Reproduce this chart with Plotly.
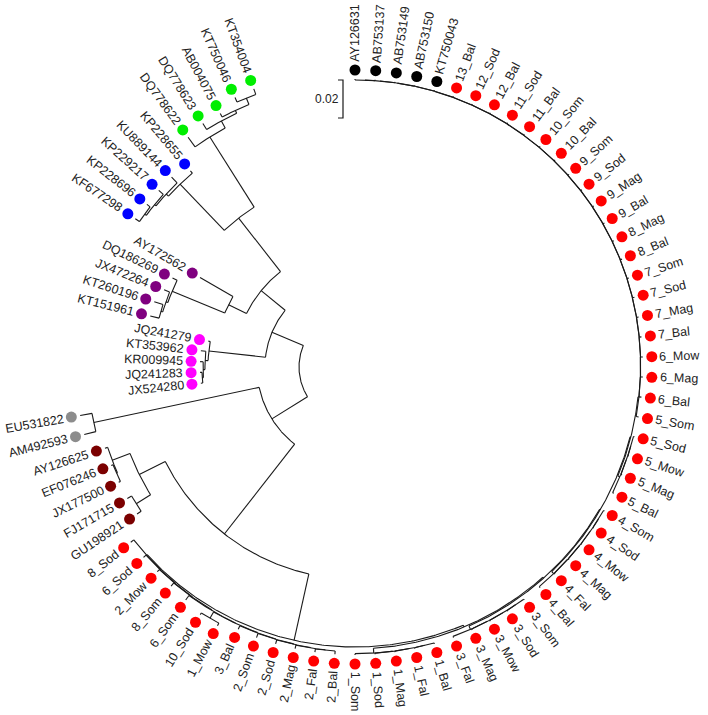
import math
import plotly.graph_objects as go

# ---------------- data: tips in clockwise order (starting at the top) ----------------
black_tips = ["AY126631", "AB753137", "AB753149", "AB753150", "KT750043"]
red_top_tips = ["13_Bal", "12_Sod", "12_Bal", "11_Sod", "11_Bal", "10_Som", "10_Bal", "9_Som",
                "9_Sod", "9_Mag", "9_Bal", "8_Mag", "8_Bal", "7_Som", "7_Sod", "7_Mag", "7_Bal",
                "6_Mow", "6_Mag", "6_Bal", "5_Som"]
red_g1_tips = ["5_Sod", "5_Mow", "5_Mag", "5_Bal"]
red_g2_tips = ["4_Som", "4_Sod", "4_Mow", "4_Mag", "4_Fal", "4_Bal"]
red_g3_tips = ["3_Som", "3_Sod", "3_Mow", "3_Mag", "3_Fal"]
red_g4_tips = ["1_Bal", "1_Fal", "1_Mag", "1_Sod", "1_Som"]
red_lft_tips = ["2_Bal", "2_Fal", "2_Mag", "2_Sod", "2_Som", "3_Bal", "1_Mow", "10_Sod",
                "6_Som", "8_Som", "2_Mow", "6_Sod", "8_Sod"]
darkred_tips = ["GU198921", "FJ171715", "JX177500", "EF076246", "AY126625"]
gray_tips = ["AM492593", "EU531822"]
magenta_tips = ["JX524280", "JQ241283", "KR009945", "KT353962", "JQ241279"]
purple_tips = ["KT151961", "KT260196", "JX472264", "DQ186269", "AY172562"]
blue_tips = ["KF677298", "KP228696", "KP229217", "KU889144", "KP228655"]
green_tips = ["DQ778622", "DQ778623", "AB004075", "KT750046", "KT354004"]

# root-to-tip distances (substitutions/site)
black_depth = [0.1221, 0.1221, 0.1221, 0.1221, 0.1221]
red_top_depth = [0.1221, 0.1221, 0.1221, 0.1221, 0.1221, 0.1221, 0.1221, 0.1221, 0.1221,
                 0.1221, 0.1221, 0.1221, 0.1221, 0.1221, 0.1221, 0.1221, 0.1221, 0.1221,
                 0.1221, 0.1221, 0.1221]
red_g1_depth = [0.1221, 0.1221, 0.1221, 0.1221]
red_g2_depth = [0.1221, 0.1221, 0.1221, 0.1221, 0.1221, 0.1221]
red_g3_depth = [0.1221, 0.1221, 0.1221, 0.1221, 0.1221]
red_g4_depth = [0.1221, 0.1221, 0.1221, 0.1221, 0.1221]
red_lft_depth = [0.1221, 0.1221, 0.1221, 0.1221, 0.1221, 0.1216, 0.1247, 0.1242, 0.1221,
                 0.1211, 0.1203, 0.1203, 0.1203]
darkred_depth = [0.1089, 0.1089, 0.1089, 0.1089, 0.1089]
gray_depth = [0.1174, 0.1174]
magenta_depth = [0.0521, 0.0521, 0.0521, 0.0521, 0.0489]
purple_depth = [0.0816, 0.0816, 0.0789, 0.0774, 0.0647]
blue_depth = [0.1100, 0.1095, 0.1095, 0.1095, 0.1053]
green_depth = [0.1200, 0.1216, 0.1216, 0.1258, 0.1263]

# depths of ladder nodes (innermost node first)
top_comb_depth = [0.1216, 0.1216, 0.1216, 0.1216, 0.1216, 0.1215, 0.1215, 0.1215, 0.1215,
                  0.1214, 0.1214, 0.1214, 0.1213, 0.1213, 0.1213, 0.1212, 0.1212, 0.1211,
                  0.1211, 0.1210, 0.1210, 0.1209, 0.1209, 0.1208, 0.1208]
g1_comb_depth = [0.1216, 0.1215, 0.1214]
g2_comb_depth = [0.1216, 0.1216, 0.1215, 0.1215, 0.1214]
g3_comb_depth = [0.1216, 0.1215, 0.1215, 0.1214]
g4_comb_depth = [0.1216, 0.1215, 0.1215, 0.1214]
join_depth = [0.1203, 0.1199, 0.1195, 0.1189]          # top+G1, +G2, +G3, +G4
lft_comb_depth = [0.1204, 0.1202, 0.1200, 0.1198, 0.1196, 0.1194, 0.1192, 0.1189, 0.1187,
                  0.1185, 0.1183]
cherry_depth = 0.1232                                   # (1_Mow, 10_Sod)

darkred_tree = (0.0974, [(0.1063, ["GU198921", "FJ171715"]),
                         (0.1074, [(0.1079, ["JX177500", "EF076246"]), "AY126625"])])
gray_tree = (0.1111, ["AM492593", "EU531822"])
magenta_tree = (0.0479, [(0.0495, [(0.0505, [(0.0511, ["JX524280", "JQ241283"]), "KR009945"]),
                                   "KT353962"]), "JQ241279"])
purple_tree = (0.0447, [(0.0747, [(0.0758, [(0.0768, ["KT151961", "KT260196"]), "JX472264"]),
                                  "DQ186269"]), "AY172562"])
blue_tree = (0.1037, [(0.1053, [(0.1063, [(0.1074, ["KF677298", "KP228696"]), "KP229217"]),
                                "KU889144"]), "KP228655"])
green_tree = (0.1137, ["DQ778622", (0.1179, ["DQ778623", (0.1195, ["AB004075",
                        (0.1232, ["KT750046", "KT354004"])])])])

backbone_depth = {"root": 0.0, "N2": 0.0221, "N4": 0.0179, "N1": 0.0821, "R0": 0.1179,
                  "N5": 0.0342, "N6": 0.0700}
scale_bar_value = 0.02

# ---------------- build tree ----------------
def comb(items, depths):
    node = items[0]
    for t, d in zip(items[1:], depths):
        node = (d, [node, t])
    return node

top = comb(black_tips + red_top_tips, top_comb_depth)
g_clades = [comb(red_g1_tips, g1_comb_depth), comb(red_g2_tips, g2_comb_depth),
            comb(red_g3_tips, g3_comb_depth), comb(red_g4_tips, g4_comb_depth)]
a_clade = top
for g, d in zip(g_clades, join_depth):
    a_clade = (d, [a_clade, g])
lft_items = red_lft_tips[:6] + [(cherry_depth, red_lft_tips[6:8])] + red_lft_tips[8:]
lft_clade = comb(lft_items, lft_comb_depth)

r0 = (backbone_depth["R0"], [a_clade, lft_clade])
n1 = (backbone_depth["N1"], [r0, darkred_tree])
n2 = (backbone_depth["N2"], [n1, gray_tree])
n6 = (backbone_depth["N6"], [blue_tree, green_tree])
n5 = (backbone_depth["N5"], [purple_tree, n6])
n4 = (backbone_depth["N4"], [magenta_tree, n5])
root = (backbone_depth["root"], [n2, n4])

groups = [
    (black_tips, black_depth, "#000000"),
    (red_top_tips, red_top_depth, "#ff0000"),
    (red_g1_tips, red_g1_depth, "#ff0000"),
    (red_g2_tips, red_g2_depth, "#ff0000"),
    (red_g3_tips, red_g3_depth, "#ff0000"),
    (red_g4_tips, red_g4_depth, "#ff0000"),
    (red_lft_tips, red_lft_depth, "#ff0000"),
    (darkred_tips, darkred_depth, "#7b0000"),
    (gray_tips, gray_depth, "#8c8c8c"),
    (magenta_tips, magenta_depth, "#ff00ff"),
    (purple_tips, purple_depth, "#7f007f"),
    (blue_tips, blue_depth, "#0000ff"),
    (green_tips, green_depth, "#00ee00"),
]
tip_order, tip_depth, tip_color = [], {}, {}
for names, depths, col in groups:
    for n, d in zip(names, depths):
        tip_order.append(n)
        tip_depth[n] = d
        tip_color[n] = col
tip_index = {n: i for i, n in enumerate(tip_order)}

# ---------------- geometry ----------------
W, H = 708, 715
CX, CY = 355.0, 367.0
R_IN = 56.0
PX_PER_UNIT = 1900.0
STEP_DEG = 4.0

def rad_of(d):
    return R_IN + d * PX_PER_UNIT

def polar(r, a):
    t = math.radians(a)
    return CX + r * math.cos(t), CY - r * math.sin(t)

line_x, line_y = [], []
def add_line(pts):
    for x, y in pts:
        line_x.append(x)
        line_y.append(y)
    line_x.append(None)
    line_y.append(None)

tips_drawn = []
def draw(node, parent_r):
    if isinstance(node, str):
        a = 90.0 - STEP_DEG * tip_index[node]
        r = rad_of(tip_depth[node])
        tips_drawn.append((node, a, r))
    else:
        d, kids = node
        r = rad_of(d)
        angs = [draw(k, r) for k in kids]
        a0, a1 = min(angs), max(angs)
        a = (a0 + a1) / 2.0
        n = max(2, int((a1 - a0) / 0.4) + 2)
        add_line([polar(r, a0 + (a1 - a0) * k / (n - 1)) for k in range(n)])
    if parent_r is not None:
        add_line([polar(parent_r, a), polar(r, a)])
    return a

draw(root, None)

CW = {'A': .667, 'B': .667, 'D': .722, 'E': .667, 'F': .611, 'G': .778, 'J': .5, 'K': .667,
      'M': .833, 'P': .667, 'Q': .778, 'R': .722, 'S': .667, 'T': .611, 'U': .722, 'X': .667,
      'Y': .667, 'a': .556, 'l': .222, 'o': .556, 'd': .556, 'm': .833, 'g': .556, 'w': .722,
      '_': .556}
FS = 12.5
FONT = "Liberation Sans, Arial, sans-serif"
def text_w(s):
    return sum(CW.get(c, .556) for c in s) * FS

fig = go.Figure()
fig.add_trace(go.Scatter(x=line_x, y=line_y, mode="lines",
                         line=dict(color="#1a1a1a", width=1.1), hoverinfo="skip"))

dx, dy, dc = [], [], []
annotations = []
for name, a, r in tips_drawn:
    rd = r + 9
    x, y = polar(rd, a)
    dx.append(x); dy.append(y); dc.append(tip_color[name])
    w = text_w(name)
    lx, ly = polar(rd + 8 + w / 2.0, a)
    an = ((a + 180) % 360) - 180
    if math.cos(math.radians(an)) >= -1e-9:
        ta = -an
    else:
        ta = -(an + 180)
    ta = ((ta + 180) % 360) - 180
    annotations.append(dict(x=lx, y=ly, xref="x", yref="y", text=name, showarrow=False,
                            textangle=ta, xanchor="center", yanchor="middle",
                            font=dict(family=FONT, size=FS, color="#222222")))

fig.add_trace(go.Scatter(x=dx, y=dy, mode="markers",
                         marker=dict(color=dc, size=11, line=dict(width=0)), hoverinfo="skip"))

# scale bar
bar_len = scale_bar_value * PX_PER_UNIT
bx, by = 343.0, 80.0
fig.add_trace(go.Scatter(x=[bx - 5, bx, bx, bx - 5], y=[by, by, by + bar_len, by + bar_len],
                         mode="lines", line=dict(color="#1a1a1a", width=1.2), hoverinfo="skip"))
annotations.append(dict(x=bx - 2, y=by + bar_len / 2, xref="x", yref="y", text="0.02",
                        showarrow=False, xanchor="right", yanchor="middle",
                        font=dict(family=FONT, size=12, color="#222222")))

fig.update_layout(width=W, height=H, margin=dict(l=0, r=0, t=0, b=0),
                  showlegend=False, plot_bgcolor="white", paper_bgcolor="white",
                  hovermode=False,
                  xaxis=dict(range=[0, W], visible=False),
                  yaxis=dict(range=[H, 0], visible=False),
                  annotations=annotations)
fig.write_html("out.html", config={"displayModeBar": False, "staticPlot": True},
               post_script="document.body.style.margin='0px';")
